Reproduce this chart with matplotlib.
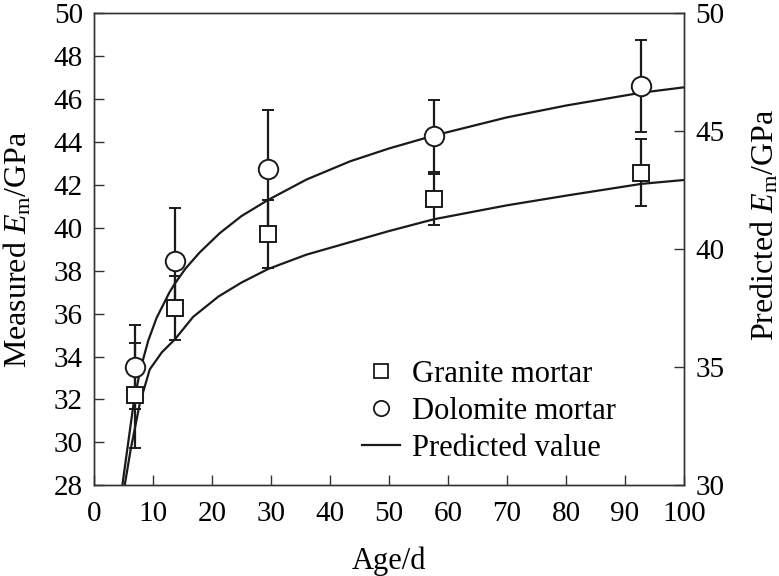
import matplotlib
matplotlib.use("Agg")
import matplotlib.pyplot as plt
from matplotlib.lines import Line2D

plt.rcParams['font.family'] = ['Liberation Serif', 'DejaVu Serif']
plt.rcParams['mathtext.fontset'] = 'custom'
plt.rcParams['mathtext.rm'] = 'Liberation Serif'
plt.rcParams['mathtext.it'] = 'Liberation Serif:italic'

# Measured data
age = [7.0, 13.7, 29.5, 57.6, 92.8]
granite = [32.2, 36.25, 39.7, 41.33, 42.57]
granite_err = [2.45, 1.5, 1.58, 1.18, 1.55]
dolomite = [33.5, 38.47, 42.73, 44.3, 46.63]
dolomite_err = [1.95, 2.44, 2.74, 1.68, 2.14]

# Predicted curves (left-axis units)
pred_dol_x = [4.8, 5.6, 6.7, 7.85, 9.2, 10.6, 12.8, 13.7, 15.5, 17.9, 21.3, 25.0, 29.5,
              36.0, 43.4, 50.0, 57.6, 70.0, 80.0, 92.8, 100.0]
pred_dol_y = [28.0, 29.6, 31.8, 33.4, 34.75, 35.8, 37.0, 37.4, 38.1, 38.85, 39.75, 40.55, 41.3,
              42.25, 43.1, 43.7, 44.3, 45.15, 45.7, 46.3, 46.55]
pred_gra_x = [5.2, 6.2, 7.75, 9.44, 11.5, 13.7, 16.8, 21.1, 25.0, 29.5, 36.0, 43.0,
              50.0, 57.6, 70.0, 80.0, 92.8, 100.0]
pred_gra_y = [28.0, 29.65, 31.8, 33.4, 34.2, 34.8, 35.85, 36.8, 37.45, 38.08, 38.75, 39.3,
              39.85, 40.4, 41.05, 41.5, 42.05, 42.23]

fig = plt.figure(figsize=(7.79, 5.76), dpi=100)
ax = fig.add_axes([0.1207, 0.1575, 0.7573, 0.8194])

c = '#1a1a1a'
ax.plot(pred_dol_x, pred_dol_y, color=c, lw=1.6, zorder=2)
ax.plot(pred_gra_x, pred_gra_y, color=c, lw=1.6, zorder=2)

ax.errorbar(age, granite, yerr=granite_err, fmt='s', ms=11.5, mfc='white', mec=c, mew=1.4,
            ecolor=c, elinewidth=1.6, capsize=4.6, capthick=1.8, zorder=3)
ax.errorbar(age, dolomite, yerr=dolomite_err, fmt='o', ms=14, mfc='white', mec=c, mew=1.4,
            ecolor=c, elinewidth=1.6, capsize=4.6, capthick=1.8, zorder=3)

ax.set_xlim(0, 100)
ax.set_ylim(28, 50)
ax.set_xticks(range(0, 101, 10))
ax.set_yticks(range(28, 51, 2))
ax.tick_params(direction='in', length=7, width=1, labelsize=21, color='#333333',
               top=False, right=False, pad=8)
ax.tick_params(axis='x', pad=11)
for s in ax.spines.values():
    s.set_linewidth(1.0)
    s.set_color('#333333')
ax.set_xlabel('Age/d', fontsize=22)
ax.xaxis.set_label_coords(0.5, -0.130)
ax.set_ylabel(r'Measured $E_{\mathrm{m}}$/GPa', fontsize=23)
ax.yaxis.set_label_coords(-0.102, 0.5)

ax2 = ax.twinx()
ax2.set_ylim(30, 50)
ax2.set_yticks(range(30, 51, 5))
ax2.tick_params(direction='in', length=7, width=1, labelsize=21, color='#333333', pad=8)
ax2.set_ylabel(r'Predicted $E_{\mathrm{m}}$/GPa', fontsize=23)
ax2.yaxis.set_label_coords(1.110, 0.551)
for s in ax2.spines.values():
    s.set_linewidth(1.0)
    s.set_color('#333333')

handles = [
    Line2D([], [], ls='none', marker='s', ms=10, mfc='white', mec=c, mew=1.3),
    Line2D([], [], ls='none', marker='o', ms=11, mfc='white', mec=c, mew=1.3),
    Line2D([], [], color=c, lw=1.6),
]
ax.legend(handles, ['Granite mortar', 'Dolomite mortar', 'Predicted value'],
          loc='upper left', bbox_to_anchor=(0.454, 0.266), frameon=False, fontsize=22,
          handlelength=1.24, handletextpad=0.4, labelspacing=0.26, borderaxespad=0.0,
          borderpad=0.0)

fig.savefig('out.png', dpi=100)
